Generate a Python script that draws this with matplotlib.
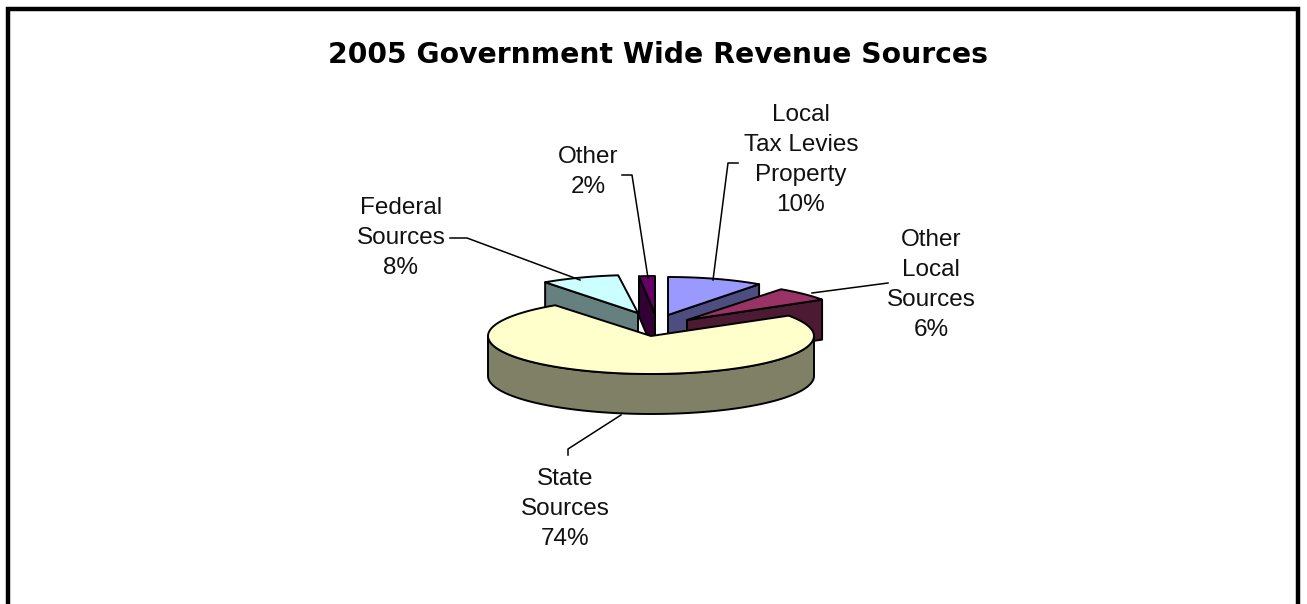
import matplotlib
matplotlib.use("Agg")
import matplotlib.pyplot as plt
import numpy as np
from matplotlib.patches import Polygon

plt.rcParams['font.family'] = ['Liberation Sans', 'DejaVu Sans']

title = "2005 Government Wide Revenue Sources"
labels = ["Local\nTax Levies\nProperty", "Other\nLocal\nSources", "State\nSources", "Federal\nSources", "Other"]
values = [10, 6, 74, 8, 2]

top_colors = ["#9999FF", "#993366", "#FFFFCC", "#CCFFFF", "#660066"]
side_colors = ["#4D4D80", "#4D1A33", "#808066", "#668080", "#330033"]

# pixel layout of the picture
apex = [(668, 315), (687, 320), (651, 336), (638, 313), (655, 314)]
slice_rx = [155, 160, 163, 158, 128]
radius_y = 38
depth = 40
label_pos = [(801, 160), (931, 285), (565, 509), (401, 238), (588, 172)]
leaders = [
    [(738, 163), (728, 163), (713, 280)],
    [(888, 283), (812, 293)],
    [(568, 455), (568, 449), (621, 415)],
    [(450, 238), (467, 238), (580, 280)],
    [(622, 175), (632, 175), (648, 278)],
]


def rim(center, a0, a1, rx):
    # angles are degrees clockwise from 12 o'clock
    t = np.radians(np.linspace(a0, a1, 90))
    return np.column_stack([center[0] + rx * np.sin(t), center[1] - radius_y * np.cos(t)])


def draw_slice(ax, i, a0, a1):
    c = np.array(apex[i], dtype=float)
    down = np.array([0, depth])
    edge = rim(c, a0, a1, slice_rx[i])
    style = dict(edgecolor="black", linewidth=1.4, joinstyle="round")

    # only the cut wall facing the viewer
    if a0 > 180:
        p = edge[0]
        ax.add_patch(Polygon([c, p, p + down, c + down], facecolor=side_colors[i], **style))
    elif a1 < 180:
        p = edge[-1]
        ax.add_patch(Polygon([c, p, p + down, c + down], facecolor=side_colors[i], **style))

    # outer wall of the big slice
    if a0 < 90 and a1 > 270:
        front = rim(c, 90, 270, slice_rx[i])
        wall = np.vstack([front, (front + down)[::-1]])
        ax.add_patch(Polygon(wall, facecolor=side_colors[i], **style))

    ax.add_patch(Polygon(np.vstack([c, edge]), facecolor=top_colors[i], **style))


fig = plt.figure(figsize=(13.07, 6.04), dpi=100)
ax = fig.add_axes([0, 0, 1, 1])
ax.set_xlim(0, 1307)
ax.set_ylim(604, 0)
ax.axis("off")

# outer frame, open at the bottom
ax.plot([8, 8, 1298, 1298], [604, 9, 9, 604], color="black", lw=3.2, solid_joinstyle="miter")
ax.text(658, 55, title, ha="center", va="center", fontsize=20.3, fontweight="bold", family="DejaVu Sans")

ends = np.cumsum(values) / sum(values) * 360
starts = np.concatenate([[0], ends[:-1]])

# back slices first, the big front slice last
for i in [4, 3, 0, 1, 2]:
    draw_slice(ax, i, starts[i], ends[i])

for i in range(len(values)):
    pts = np.array(leaders[i])
    ax.plot(pts[:, 0], pts[:, 1], color="black", lw=1.1, zorder=5)
    ax.text(label_pos[i][0], label_pos[i][1], f"{labels[i]}\n{values[i]}%", ha="center", va="center",
            fontsize=17.5, linespacing=1.46, color="#111111", zorder=6)

fig.savefig("out.png", dpi=100)
